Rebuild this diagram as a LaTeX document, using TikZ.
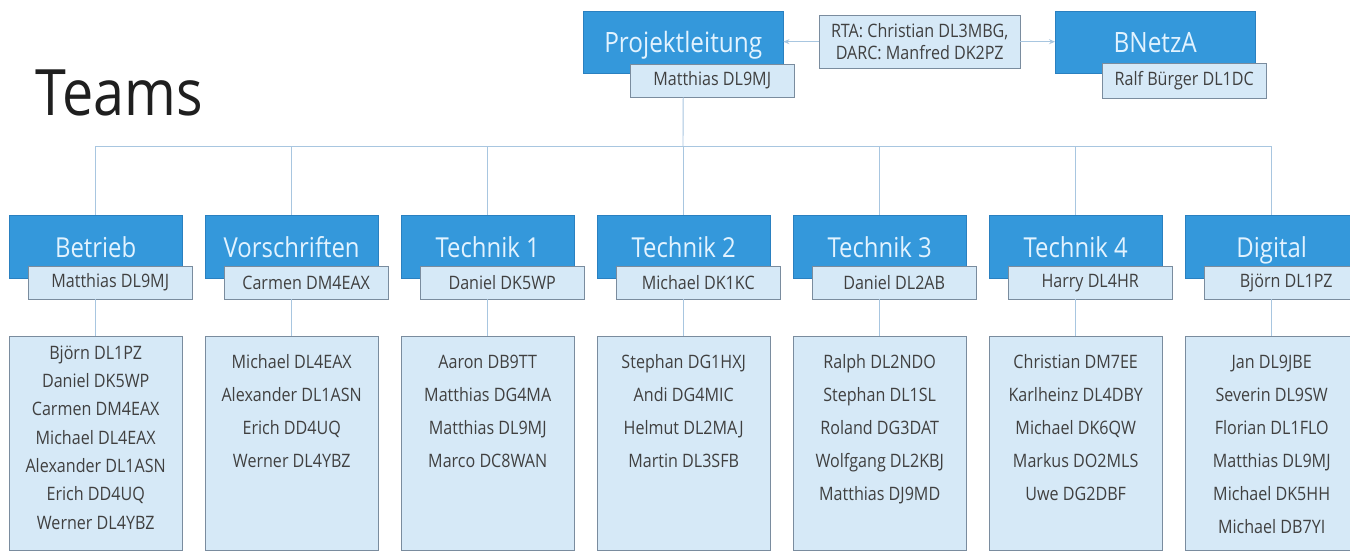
\documentclass[tikz,border=0pt]{standalone}
\usepackage{fontspec}
\setmainfont{Open Sans}[FakeStretch=0.87]
\usetikzlibrary{positioning,arrows.meta}
\definecolor{headblue}{RGB}{52,152,219}
\definecolor{headedge}{RGB}{42,128,192}
\definecolor{headtext}{RGB}{226,243,255}
\definecolor{namefill}{RGB}{214,233,247}
\definecolor{nameedge}{RGB}{122,140,158}
\definecolor{nametext}{RGB}{64,64,64}
\definecolor{orgline}{RGB}{168,198,224}

\begin{document}
\begin{tikzpicture}[x=1pt, y=-1pt,
  head/.style={draw=headedge, fill=headblue, text=headtext, anchor=north west, inner sep=0pt,
    minimum width=173pt, minimum height=63pt, text height=21pt, text depth=0pt,
    font=\fontsize{27.5}{30}\selectfont},
  tophead/.style={head, minimum width=200pt, minimum height=62pt, font=\fontsize{28}{30}\selectfont},
  namebox/.style={draw=nameedge, fill=namefill, text=nametext, anchor=north west, inner sep=0pt,
    minimum width=164pt, minimum height=33pt, font=\fontsize{18.5}{22}\selectfont},
  membox/.style={draw=nameedge, fill=namefill, anchor=north west, inner sep=0pt,
    minimum width=173pt, minimum height=214pt},
  memtext/.style={text=nametext, align=center, inner sep=0pt, font=\fontsize{18.5}{33}\selectfont},
  link/.style={draw=orgline, line width=0.9pt},
  linkarrow/.style={link, -{Stealth[length=6pt, width=5pt]}}
]
\useasboundingbox[fill=white] (0,0) rectangle (1350,551);

\node[anchor=base west, inner sep=0pt, text=black!88, font=\fontsize{64}{70}\selectfont] (title) at (35,115) {Teams};

\node[tophead] (pl) at (583,11) {Projektleitung};
\node[namebox] (plname) at (630,64) {Matthias DL9MJ};
\node[namebox, align=center, minimum width=201pt, minimum height=53pt] (rta) at (819,15) {RTA: Christian DL3MBG,\\DARC: Manfred DK2PZ};
\node[tophead] (bnetza) at (1055,11) {BNetzA};
\node[namebox, minimum height=35pt] (bnname) at (1102,63) {Ralf Bürger DL1DC};

\node[head] (betrieb) at (9,215) {Betrieb};
\node[namebox] (betrieb-name) at (28,266) {Matthias DL9MJ};
\node[membox] (betrieb-mem) at (9,336) {};
\node[memtext, font=\fontsize{18.5}{28.3}\selectfont, below=9.5pt of betrieb-mem.north] (betrieb-list) {Björn DL1PZ\\Daniel DK5WP\\Carmen DM4EAX\\Michael DL4EAX\\Alexander DL1ASN\\Erich DD4UQ\\Werner DL4YBZ};

\node[head] (vorschr) at (205,215) {Vorschriften};
\node[namebox] (vorschr-name) at (224,266) {Carmen DM4EAX};
\node[membox] (vorschr-mem) at (205,336) {};
\node[memtext, below=18.5pt of vorschr-mem.north] (vorschr-list) {Michael DL4EAX\\Alexander DL1ASN\\Erich DD4UQ\\Werner DL4YBZ};

\node[head] (tech1) at (401,215) {Technik 1};
\node[namebox] (tech1-name) at (420,266) {Daniel DK5WP};
\node[membox] (tech1-mem) at (401,336) {};
\node[memtext, below=18.5pt of tech1-mem.north] (tech1-list) {Aaron DB9TT\\Matthias DG4MA\\Matthias DL9MJ\\Marco DC8WAN};

\node[head] (tech2) at (597,215) {Technik 2};
\node[namebox] (tech2-name) at (616,266) {Michael DK1KC};
\node[membox] (tech2-mem) at (597,336) {};
\node[memtext, below=18.5pt of tech2-mem.north] (tech2-list) {Stephan DG1HXJ\\Andi DG4MIC\\Helmut DL2MAJ\\Martin DL3SFB};

\node[head] (tech3) at (793,215) {Technik 3};
\node[namebox] (tech3-name) at (812,266) {Daniel DL2AB};
\node[membox] (tech3-mem) at (793,336) {};
\node[memtext, below=18.5pt of tech3-mem.north] (tech3-list) {Ralph DL2NDO\\Stephan DL1SL\\Roland DG3DAT\\Wolfgang DL2KBJ\\Matthias DJ9MD};

\node[head] (tech4) at (989,215) {Technik 4};
\node[namebox] (tech4-name) at (1008,266) {Harry DL4HR};
\node[membox] (tech4-mem) at (989,336) {};
\node[memtext, below=18.5pt of tech4-mem.north] (tech4-list) {Christian DM7EE\\Karlheinz DL4DBY\\Michael DK6QW\\Markus DO2MLS\\Uwe DG2DBF};

\node[head] (digital) at (1185,215) {Digital};
\node[namebox] (digital-name) at (1204,266) {Björn DL1PZ};
\node[membox] (digital-mem) at (1185,336) {};
\node[memtext, below=18.5pt of digital-mem.north] (digital-list) {Jan DL9JBE\\Severin DL9SW\\Florian DL1FLO\\Matthias DL9MJ\\Michael DK5HH\\Michael DB7YI};

\coordinate (bus) at (683,146);
\draw[link] (pl.south |- plname.south) -- (bus);
\foreach \t in {betrieb,vorschr,tech1,tech2,tech3,tech4,digital} {
  \draw[link] (bus) -| (\t.north);
  \draw[link] (\t.south |- \t-name.south) -- (\t-mem.north);
}

\draw[linkarrow] (rta.west) -- (rta.west -| pl.east);
\draw[linkarrow] (rta.east) -- (rta.east -| bnetza.west);
\end{tikzpicture}
\end{document}
